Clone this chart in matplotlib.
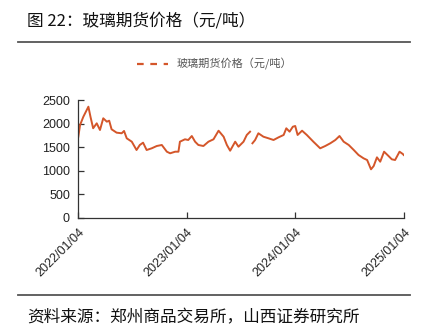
import numpy as np
import pandas as pd
import matplotlib
matplotlib.use('Agg')
import matplotlib.pyplot as plt
import matplotlib.dates as mdates
from matplotlib.lines import Line2D

plt.rcParams['font.family'] = ['Liberation Sans', 'Noto Sans CJK SC', 'DejaVu Sans']

# ── Data ──────────────────────────────────────────────────────
dates = [
    '2022-01-04', '2022-01-10', '2022-01-21', '2022-02-07', '2022-02-14', '2022-02-23',
    '2022-03-07', '2022-03-18', '2022-03-29', '2022-04-10', '2022-04-18', '2022-04-26',
    '2022-05-13', '2022-05-30', '2022-06-07', '2022-06-16', '2022-07-03', '2022-07-19',
    '2022-07-30', '2022-08-10', '2022-08-22', '2022-09-08', '2022-09-25', '2022-10-12',
    '2022-10-29', '2022-11-09', '2022-11-26', '2022-12-07', '2022-12-12', '2022-12-29',
    '2023-01-09', '2023-01-21', '2023-02-01', '2023-02-12', '2023-03-01', '2023-03-18',
    '2023-04-04', '2023-04-21', '2023-05-08', '2023-05-19', '2023-05-30', '2023-06-16',
    '2023-06-27', '2023-07-14', '2023-07-25', '2023-08-05', '2023-08-10', '2023-08-13',
    '2023-08-22', '2023-09-02', '2023-09-19', '2023-10-06', '2023-10-23', '2023-11-09',
    '2023-11-26', '2023-12-05', '2023-12-16', '2023-12-27', '2024-01-04', '2024-01-12',
    '2024-01-27', '2024-02-12', '2024-03-05', '2024-03-28', '2024-04-14', '2024-05-01',
    '2024-05-18', '2024-06-01', '2024-06-15', '2024-07-02', '2024-07-19', '2024-08-04',
    '2024-08-21', '2024-09-02', '2024-09-15', '2024-09-24', '2024-10-05', '2024-10-16',
    '2024-10-29', '2024-11-13', '2024-11-24', '2024-12-05', '2024-12-20', '2024-12-31',
    '2025-01-03',
]
price = [
    1725, 1975, 2150, 2364, 2150, 1905,
    2010, 1868, 2117, 2045, 2066, 1883,
    1811, 1798, 1847, 1691, 1619, 1442,
    1549, 1598, 1442, 1478, 1527, 1549,
    1406, 1372, 1406, 1406, 1619, 1670,
    1655, 1740, 1619, 1549, 1527, 1619,
    1670, 1853, 1725, 1549, 1427, 1619,
    1512, 1619, 1762, 1832, np.nan, 1585,
    1655, 1798, 1725, 1691, 1655, 1712,
    1762, 1904, 1832, 1938, 1953, 1762,
    1853, 1762, 1619, 1478, 1527, 1585,
    1655, 1740, 1619, 1549, 1442, 1336,
    1265, 1229, 1031, 1101, 1286, 1193,
    1406, 1314, 1244, 1229, 1406, 1357,
    1336,
]
tick_dates = ['2022-01-04', '2023-01-04', '2024-01-04', '2025-01-04']
tick_labels = ['2022/01/04', '2023/01/04', '2024/01/04', '2025/01/04']
y_ticks = [0, 500, 1000, 1500, 2000, 2500]

title = '图 22：玻璃期货价格（元/吨）'
series_name = '玻璃期货价格（元/吨）'
source = '资料来源：郑州商品交易所，山西证券研究所'

line_color = '#D4562A'

# ── Figure ────────────────────────────────────────────────────
fig = plt.figure(figsize=(4.29, 3.35), dpi=100)
ax = fig.add_axes([0.1825, 0.350, 0.7592, 0.3506])

x = pd.to_datetime(dates)
ax.plot(x, price, color=line_color, linewidth=1.4)

ax.set_xlim(pd.Timestamp(tick_dates[0]), pd.Timestamp(tick_dates[-1]))
ax.set_ylim(0, 2500)
ax.set_yticks(y_ticks)
ax.set_xticks(pd.to_datetime(tick_dates))
ax.set_xticklabels(tick_labels, rotation=45, ha='right', rotation_mode='anchor')

for s in ['top', 'right']:
    ax.spines[s].set_visible(False)
for s in ['left', 'bottom']:
    ax.spines[s].set_color('#333333')
    ax.spines[s].set_linewidth(0.9)
ax.tick_params(direction='in', length=4, width=0.9, color='#333333',
               labelsize=9, labelcolor='#222222')
ax.tick_params(axis='x', pad=6)
ax.tick_params(axis='y', pad=6)

# legend with dashed handle
handle = Line2D([], [], color=line_color, linestyle=(0, (3, 3)), linewidth=1.6)
fig.legend([handle], [series_name], loc='center', bbox_to_anchor=(0.50, 0.808),
           frameon=False, fontsize=8, handlelength=2.8, handletextpad=0.8,
           labelcolor='#555555', prop={'family': ['Noto Sans CJK SC'], 'size': 8})

# title, rules, source
fig.text(0.063, 0.938, title, fontsize=12, color='#111111', va='center',
         family=['Noto Sans CJK SC', 'DejaVu Sans'])
fig.add_artist(Line2D([0.042, 0.956], [0.874, 0.874], color='#555555', linewidth=1.3))
fig.add_artist(Line2D([0.042, 0.956], [0.119, 0.119], color='#555555', linewidth=1.3))
fig.text(0.063, 0.050, source, fontsize=12, color='#111111', va='center',
         family=['Noto Sans CJK SC', 'DejaVu Sans'])

plt.savefig('out.png', dpi=100)
